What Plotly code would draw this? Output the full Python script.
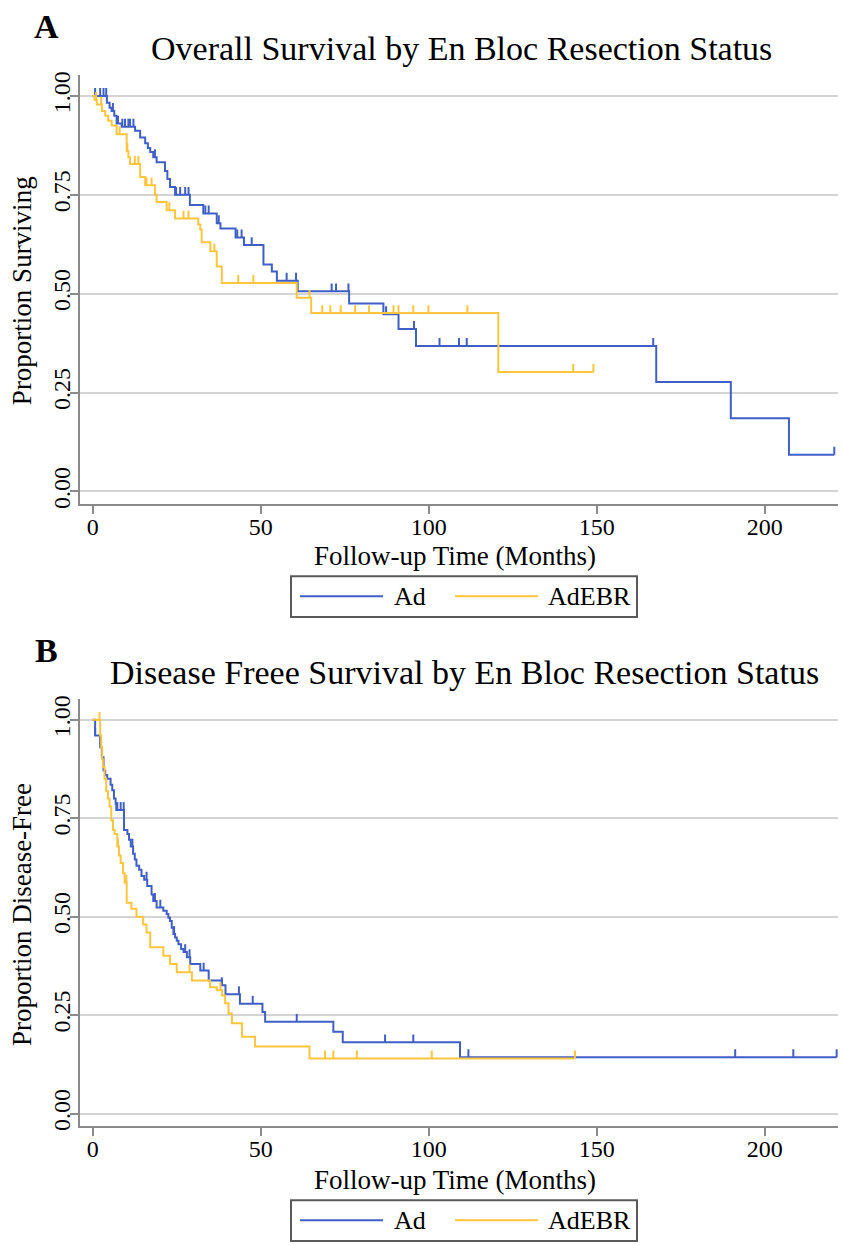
import numpy as np
import plotly.graph_objects as go

W, H = 843, 1245

# ---------------- data ----------------
groups = ["Ad", "AdEBR"]
x_ticks = [0, 50, 100, 150, 200]
y_ticks = [0.0, 0.25, 0.50, 0.75, 1.0]
y_tick_labels = ["0.00", "0.25", "0.50", "0.75", "1.00"]

# Panel A: overall survival
os_ad_t = [0, 4.2, 5.0, 5.6, 6.4, 7.1, 8.6, 12.6, 14.1, 15.6, 16.4, 17.1, 18.0, 19.0, 21.5, 22.2, 23.0,
           24.5, 28.9, 32.9, 36.9, 38.0, 42.5, 45.0, 50.8, 53.3, 54.8, 61.0, 76.3, 86.5, 91.0, 96.2,
           167.7, 189.9, 207.2]
os_ad_s = [1.0, 0.983, 0.97, 0.962, 0.95, 0.93, 0.922, 0.912, 0.895, 0.88, 0.868, 0.858, 0.845, 0.832,
           0.81, 0.79, 0.77, 0.75, 0.724, 0.703, 0.678, 0.665, 0.642, 0.623, 0.574, 0.556, 0.533, 0.506,
           0.475, 0.448, 0.411, 0.368, 0.277, 0.185, 0.093]
os_ad_end = 220.7
os_ad_cens = [0.7, 2.2, 3.2, 4.0, 6.0, 7.5, 8.8, 9.6, 10.6, 11.1, 12.1, 18.5, 21.5, 24.8, 26.0, 27.5,
              28.5, 33.5, 34.5, 37.5, 43.0, 44.3, 47.3, 57.7, 60.5, 71.1, 72.4, 76.1, 87.3, 95.6,
              103.2, 109.0, 111.3, 166.8, 220.7]

os_ebr_t = [0, 0.5, 1.2, 2.7, 3.7, 4.6, 5.6, 7.1, 10.1, 10.6, 11.1, 14.1, 15.6, 18.5, 19.0, 22.0, 24.5,
            31.4, 32.0, 32.4, 35.0, 36.9, 38.4, 60.7, 65.0, 120.7]
os_ebr_s = [1.0, 0.99, 0.978, 0.962, 0.95, 0.937, 0.925, 0.903, 0.86, 0.845, 0.828, 0.795, 0.774, 0.75,
            0.732, 0.711, 0.69, 0.675, 0.662, 0.63, 0.607, 0.569, 0.527, 0.49, 0.451, 0.302]
os_ebr_end = 149.0
os_ebr_cens = [1.0, 2.5, 8.0, 10.3, 12.5, 13.6, 16.0, 17.5, 22.8, 27.0, 28.5, 36.2, 43.3, 47.8, 64.5,
               68.3, 70.7, 73.8, 78.1, 82.2, 89.5, 91.0, 95.4, 99.9, 111.5, 143.0, 149.0]

# Panel B: disease-free survival
dfs_ad_t = [0, 0.7, 2.2, 2.7, 3.2, 3.7, 4.3, 5.3, 5.8, 6.3, 6.8, 7.0, 9.3, 10.3, 10.8, 11.3, 12.0, 12.5,
            13.0, 13.8, 14.5, 15.3, 16.2, 17.5, 18.0, 19.0, 21.0, 22.0, 22.5, 23.0, 23.5, 24.0, 24.5,
            25.0, 25.5, 26.3, 27.0, 28.0, 29.0, 32.0, 34.5, 38.4, 39.5, 43.8, 50.5, 51.3, 71.6, 74.4,
            109.3]
dfs_ad_s = [1.0, 0.96, 0.93, 0.905, 0.871, 0.86, 0.85, 0.835, 0.821, 0.80, 0.787, 0.771, 0.72, 0.71,
            0.695, 0.678, 0.66, 0.645, 0.629, 0.619, 0.603, 0.594, 0.578, 0.556, 0.54, 0.523, 0.515,
            0.507, 0.497, 0.489, 0.472, 0.456, 0.447, 0.439, 0.43, 0.418, 0.41, 0.397, 0.38, 0.363,
            0.338, 0.326, 0.303, 0.279, 0.258, 0.233, 0.208, 0.181, 0.143]
dfs_ad_end = 221.4
dfs_ad_cens = [0.7, 7.3, 8.3, 9.2, 11.8, 16.0, 18.5, 20.1, 24.2, 27.5, 28.8, 33.0, 38.4, 43.5, 47.6,
               60.7, 87.0, 95.4, 111.8, 191.2, 208.5, 221.4]

dfs_ebr_t = [0, 2.2, 2.5, 2.8, 3.0, 3.5, 4.0, 4.5, 5.0, 5.5, 6.0, 6.5, 7.3, 7.8, 8.3, 9.0, 9.5, 10.1,
             11.5, 13.0, 15.0, 16.0, 17.1, 21.0, 23.0, 25.0, 29.5, 34.9, 36.9, 38.5, 39.4, 40.4, 41.4,
             44.4, 48.3, 64.5]
dfs_ebr_s = [1.0, 0.96, 0.93, 0.90, 0.88, 0.85, 0.82, 0.80, 0.78, 0.745, 0.72, 0.71, 0.678, 0.655,
             0.636, 0.61, 0.586, 0.535, 0.52, 0.50, 0.48, 0.46, 0.422, 0.401, 0.38, 0.359, 0.338,
             0.321, 0.313, 0.30, 0.28, 0.254, 0.229, 0.195, 0.17, 0.14]
dfs_ebr_end = 143.5
dfs_ebr_cens = [2.0, 7.5, 10.0, 28.8, 38.0, 69.1, 71.6, 78.6, 100.9, 143.5]

# ---------------- styling ----------------
BLUE = "#3f5fc6"
YELLOW = "#fcc53d"
FONT = "Liberation Serif"
GRID = "#d4d4d4"
AXIS = "#8a8a8a"
TICK_H = 0.02  # censor tick height (data units)


def px_x(p):
    return p / W


def px_y(p):
    return 1 - p / H


fig = go.Figure()


def add_km(t, s, end, cens, color, xa, ya):
    tt = list(t) + [end]
    ss = list(s) + [s[-1]]
    fig.add_trace(go.Scatter(x=tt, y=ss, mode="lines", line=dict(color=color, width=2, shape="hv"),
                             xaxis=xa, yaxis=ya, showlegend=False, hoverinfo="skip"))
    ta = np.array(t)
    sa = np.array(s)
    idx = np.searchsorted(ta, np.array(cens), side="right") - 1
    cy = sa[np.clip(idx, 0, len(sa) - 1)]
    fig.add_trace(go.Scatter(x=cens, y=cy, mode="markers",
                             marker=dict(size=1, color="rgba(0,0,0,0)"),
                             error_y=dict(type="data", symmetric=False, array=[TICK_H] * len(cens),
                                          arrayminus=[0] * len(cens), width=0, thickness=2, color=color),
                             xaxis=xa, yaxis=ya, showlegend=False, hoverinfo="skip"))


add_km(os_ad_t, os_ad_s, os_ad_end, os_ad_cens, BLUE, "x", "y")
add_km(os_ebr_t, os_ebr_s, os_ebr_end, os_ebr_cens, YELLOW, "x", "y")
add_km(dfs_ad_t, dfs_ad_s, dfs_ad_end, dfs_ad_cens, BLUE, "x2", "y2")
add_km(dfs_ebr_t, dfs_ebr_s, dfs_ebr_end, dfs_ebr_cens, YELLOW, "x2", "y2")

xdom = [px_x(80), px_x(838)]
xrange_ = [-3.8, 221.8]
yrange_ = [-0.031, 1.054]

xax = dict(range=xrange_, domain=xdom, showgrid=False, zeroline=False, showline=True, linecolor=AXIS,
           linewidth=2, ticks="outside", ticklen=8, tickwidth=2, tickcolor=AXIS, tickvals=x_ticks,
           ticktext=[str(v) for v in x_ticks], ticklabelstandoff=-8,
           tickfont=dict(family=FONT, size=24, color="black"))
yax = dict(range=yrange_, showgrid=True, gridcolor=GRID, gridwidth=2, zeroline=False, showline=True,
           linecolor=AXIS, linewidth=2, ticks="outside", ticklen=8, tickwidth=2, tickcolor=AXIS,
           tickvals=y_ticks, ticktext=y_tick_labels, tickangle=-90, ticklabelstandoff=-10,
           tickfont=dict(family=FONT, size=24, color="black"))

fig.update_layout(
    width=W, height=H, autosize=False, margin=dict(l=0, r=0, t=0, b=0),
    paper_bgcolor="white", plot_bgcolor="white",
    xaxis=dict(xax, anchor="y"),
    yaxis=dict(yax, domain=[px_y(504), px_y(72)], anchor="x"),
    xaxis2=dict(xax, anchor="y2"),
    yaxis2=dict(yax, domain=[px_y(1130), px_y(700)], anchor="x2"),
)

ann = []


def text(s, x, y, size, bold=False, angle=0, xanchor="center"):
    ann.append(dict(text=f"<b>{s}</b>" if bold else s, x=px_x(x), y=px_y(y), xref="paper", yref="paper",
                    showarrow=False, xanchor=xanchor, yanchor="middle", textangle=angle,
                    font=dict(family=FONT, size=size, color="black")))


panels = [
    dict(letter="A", title="Overall Survival by En Bloc Resection Status", ytitle="Proportion Surviving",
         dy=0, ymid=290, tx=461),
    dict(letter="B", title="Disease Freee Survival by En Bloc Resection Status",
         ytitle="Proportion Disease-Free", dy=628, ymid=918, tx=464),
]
shapes = []
for p in panels:
    dy = p["dy"]
    text(p["letter"], 46, 24 + dy, 34, bold=True)
    text(p["title"], p["tx"], 46 + dy, 34)
    text(p["ytitle"], 22, p["ymid"], 27, angle=-90)
    text("Follow-up Time (Months)", 455, 557 + dy, 27)
    # legend box
    shapes.append(dict(type="rect", xref="paper", yref="paper", x0=px_x(291), x1=px_x(637),
                       y0=px_y(618 + dy), y1=px_y(577 + dy), line=dict(color="#5a5a5a", width=2),
                       fillcolor="white"))
    ly = 597 + dy
    shapes.append(dict(type="line", xref="paper", yref="paper", x0=px_x(300), x1=px_x(383),
                       y0=px_y(ly), y1=px_y(ly), line=dict(color=BLUE, width=2)))
    shapes.append(dict(type="line", xref="paper", yref="paper", x0=px_x(455), x1=px_x(538),
                       y0=px_y(ly), y1=px_y(ly), line=dict(color=YELLOW, width=2)))
    text(groups[0], 392, ly, 26, xanchor="left")
    text(groups[1], 546, ly, 26, xanchor="left")

fig.update_layout(annotations=ann, shapes=shapes)
fig.write_html("out.html", config={"displayModeBar": False},
               post_script="document.body.style.margin='0';document.body.style.overflow='hidden';")
